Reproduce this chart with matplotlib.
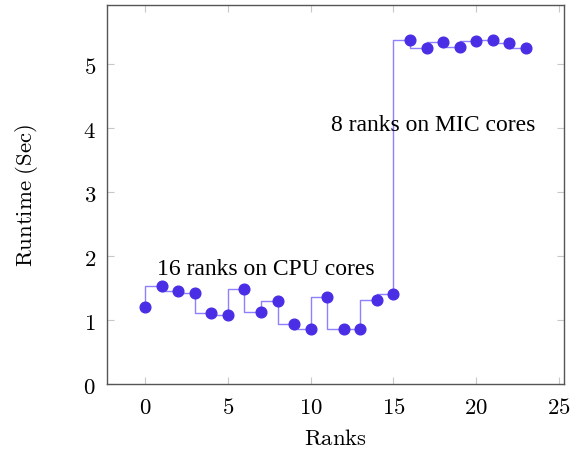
import numpy as np
import matplotlib.pyplot as plt

plt.rcParams['mathtext.fontset'] = 'cm'

# datos
ranks = list(range(24))
runtime_cpu = [1.21, 1.53, 1.46, 1.42, 1.11, 1.08, 1.48, 1.13, 1.29, 0.93, 0.86, 1.36,
               0.86, 0.86, 1.31, 1.40]
runtime_mic = [5.37, 5.25, 5.34, 5.26, 5.36, 5.38, 5.33, 5.25]
runtime = runtime_cpu + runtime_mic

xticks = [0, 5, 10, 15, 20, 25]
yticks = [0, 1, 2, 3, 4, 5]

fig = plt.figure(figsize=(5.79, 4.52), dpi=100)
ax = fig.add_axes([0.1848, 0.1482, 0.7892, 0.8385])

# linea escalonada y marcadores
ax.step(ranks, runtime, where='pre', color='#8e80ff', lw=1.0, zorder=2)
ax.plot(ranks, runtime, 'o', color='#4a2ee6', markersize=7.7, zorder=3)

ax.text(7.3, 1.80, '16 ranks on CPU cores', family='Liberation Serif', fontsize=17,
        ha='center', va='center')
ax.text(17.4, 4.06, '8 ranks on MIC cores', family='Liberation Serif', fontsize=17,
        ha='center', va='center')

ax.set_xlim(-2.3, 25.3)
ax.set_ylim(0, 5.92)
ax.set_xticks(xticks)
ax.set_yticks(yticks)
ax.set_xticklabels([f'${t}$' for t in xticks], fontsize=16.4)
ax.set_yticklabels([f'${t}$' for t in yticks], fontsize=16.4)
ax.tick_params(direction='in', top=True, right=True, length=5, width=0.8,
               color='#c8c8c8', pad=8)
for s in ax.spines.values():
    s.set_color('#555555')
    s.set_linewidth(1.0)

ax.set_xlabel(r'$\mathrm{Ranks}$', fontsize=16.4)
ax.set_ylabel(r'$\mathrm{Runtime\ (Sec)}$', fontsize=16.4)
ax.xaxis.set_label_coords(0.5, -0.112, transform=ax.transAxes)
ax.yaxis.set_label_coords(-0.147, 0.5, transform=ax.transAxes)

fig.savefig('out.png', dpi=100)
